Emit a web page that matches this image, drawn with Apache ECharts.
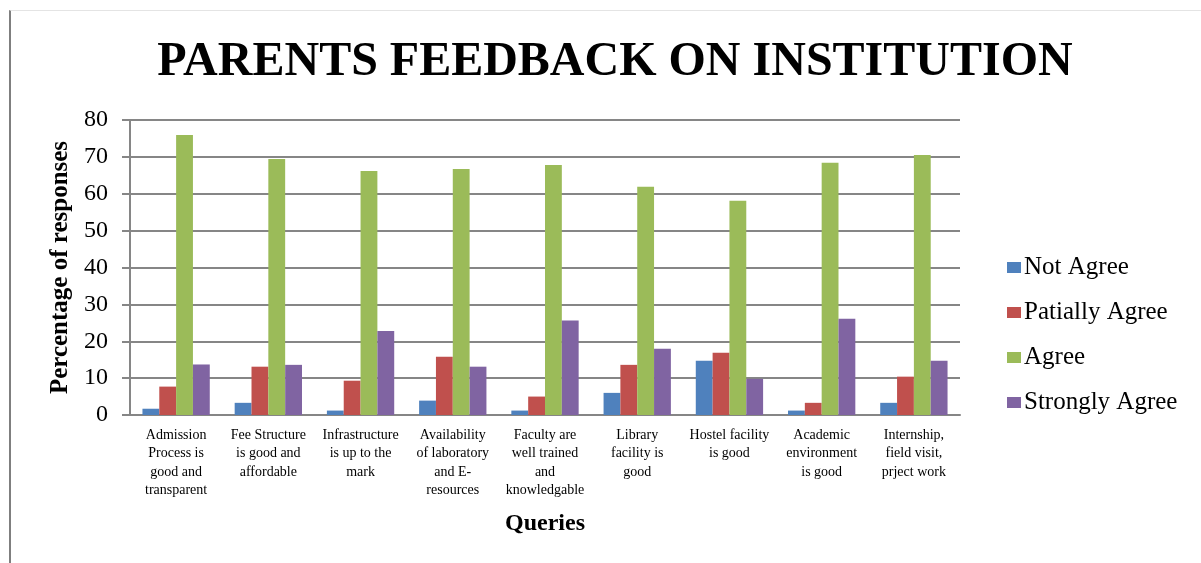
<!DOCTYPE html>
<html>
<head>
<meta charset="utf-8">
<script src="https://cdn.jsdelivr.net/npm/echarts@6/dist/echarts.min.js"></script>
<style>
  body { margin: 0; background: #fff; }
  #frame { position: absolute; left: 9px; top: 10px; width: 1192px; height: 553px;
           border-left: 2px solid #7f7f7f; border-top: 1px solid #e4e4e4; }
  #main { position: absolute; left: 0; top: 0; width: 1201px; height: 563px; }
</style>
</head>
<body>
<div id="frame"></div>
<div id="main"></div>
<script>
var categories = [
  'Admission\nProcess is\ngood and\ntransparent',
  'Fee Structure\nis good and\naffordable',
  'Infrastructure\nis up to the\nmark',
  'Availability\nof laboratory\nand E-\nresources',
  'Faculty are\nwell trained\nand\nknowledgable',
  'Library\nfacility is\ngood',
  'Hostel facility\nis good',
  'Academic\nenvironment\nis good',
  'Internship,\nfield visit,\nprject work'
];
var notAgree = [1.7, 3.3, 1.2, 3.9, 1.2, 6.0, 14.7, 1.2, 3.3];
var partiallyAgree = [7.7, 13.1, 9.3, 15.8, 5.0, 13.6, 16.9, 3.3, 10.4];
var agree = [75.9, 69.4, 66.2, 66.7, 67.8, 61.9, 58.1, 68.4, 70.5];
var stronglyAgree = [13.7, 13.6, 22.8, 13.1, 25.6, 18.0, 9.8, 26.1, 14.7];
var seriesNames = ['Not Agree', 'Patially Agree', 'Agree', 'Strongly Agree'];
var colors = ['#4f81bd', '#c0504d', '#9bbb59', '#8064a2'];

var serif = '"Liberation Serif", "Times New Roman", serif';
var chart = echarts.init(document.getElementById('main'));

var option = {
  animation: false,
  color: colors,
  title: {
    text: 'PARENTS FEEDBACK ON INSTITUTION',
    left: 610, top: 34, textAlign: 'center',
    textStyle: { fontFamily: serif, fontWeight: 'bold', fontSize: 48, color: '#000' }
  },
  legend: {
    orient: 'vertical',
    left: 1002, top: 250,
    itemWidth: 14, itemHeight: 11, itemGap: 20,
    icon: 'rect',
    textStyle: { fontFamily: serif, fontSize: 25, color: '#000', padding: [0, 0, 0, -2] },
    data: seriesNames
  },
  grid: { left: 130, right: 241, top: 120, bottom: 148, containLabel: false },
  xAxis: {
    type: 'category',
    data: categories,
    name: 'Queries',
    nameLocation: 'middle',
    nameGap: 97,
    nameTextStyle: { fontFamily: serif, fontWeight: 'bold', fontSize: 24, color: '#000' },
    axisLine: { lineStyle: { color: '#868686', width: 2 } },
    axisTick: { show: false },
    axisLabel: { interval: 0, fontFamily: serif, fontSize: 14, color: '#000', lineHeight: 18.5, margin: 11 }
  },
  yAxis: {
    type: 'value',
    min: 0, max: 80, interval: 10,
    name: 'Percentage of responses',
    nameLocation: 'middle',
    nameGap: 55,
    nameTextStyle: { fontFamily: serif, fontWeight: 'bold', fontSize: 25, color: '#000' },
    axisLine: { show: true, lineStyle: { color: '#868686', width: 2 } },
    axisTick: { show: true, length: 8, lineStyle: { color: '#868686', width: 2 } },
    axisLabel: { fontFamily: serif, fontSize: 24, color: '#000', margin: 22 },
    splitLine: { lineStyle: { color: '#868686', width: 2 } }
  },
  series: [
    { name: seriesNames[0], type: 'bar', data: notAgree, barGap: '0%', barCategoryGap: '27%' },
    { name: seriesNames[1], type: 'bar', data: partiallyAgree },
    { name: seriesNames[2], type: 'bar', data: agree },
    { name: seriesNames[3], type: 'bar', data: stronglyAgree }
  ]
};

chart.setOption(option);
</script>
</body>
</html>
